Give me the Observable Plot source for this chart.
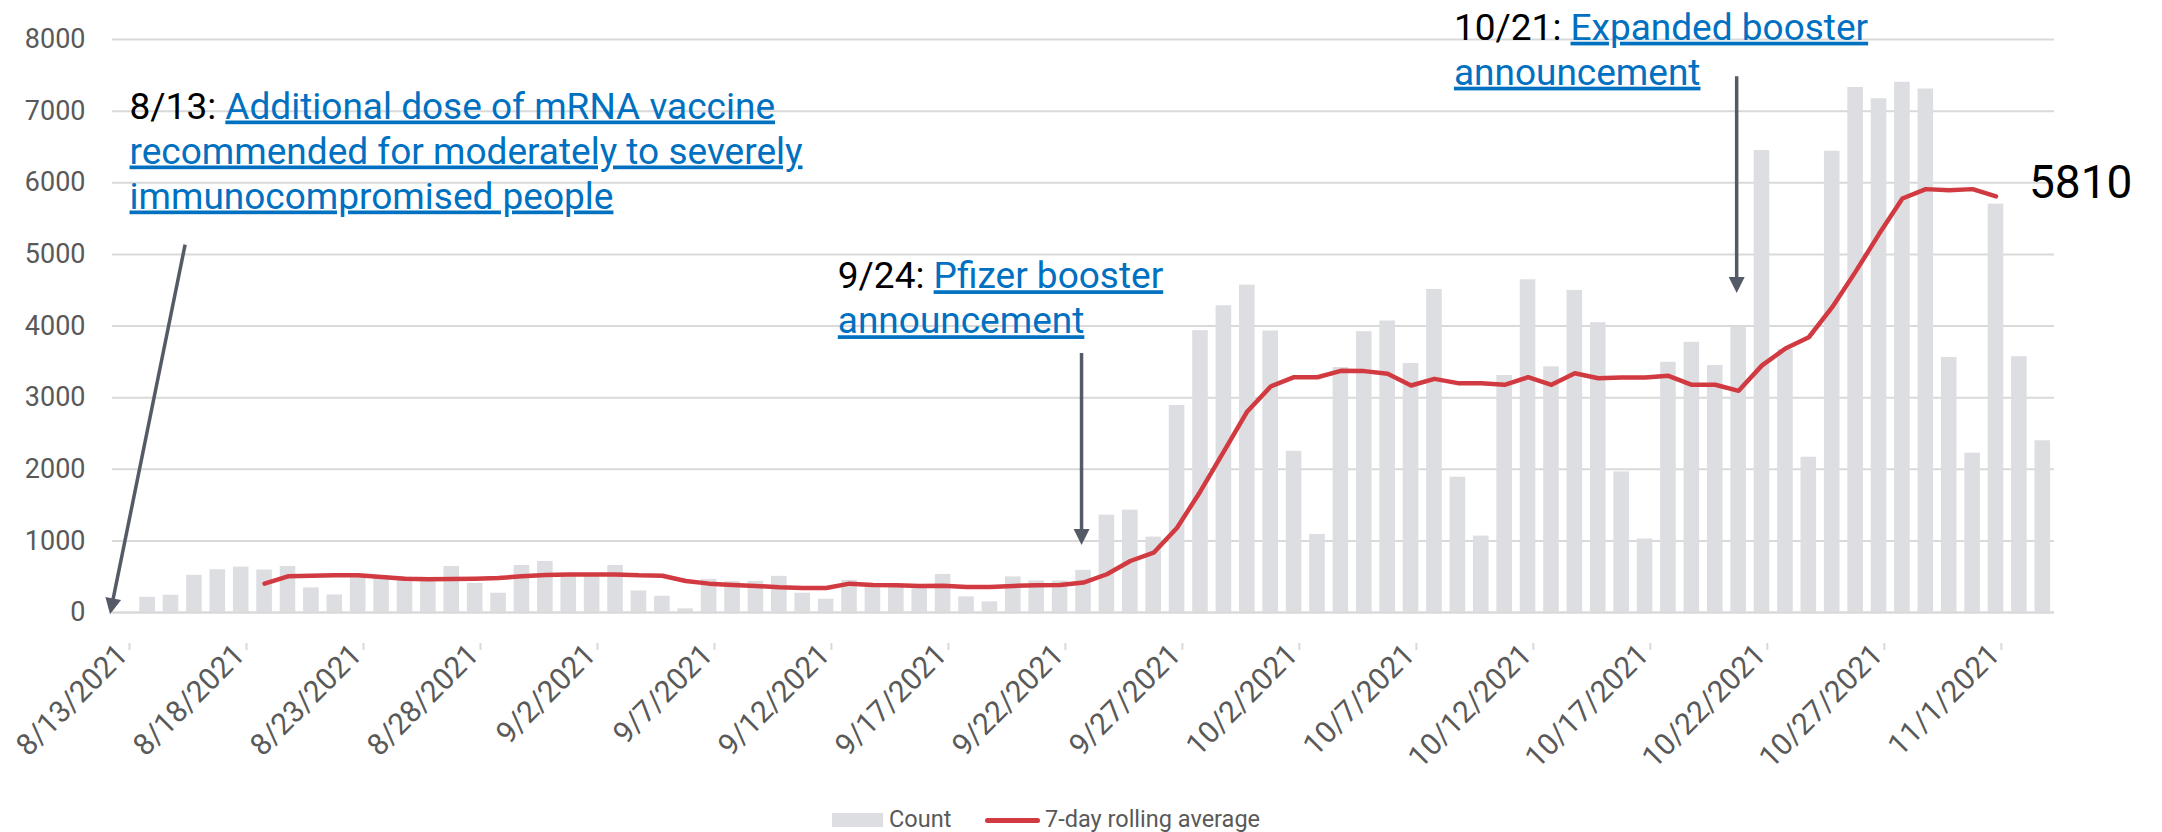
<!DOCTYPE html>
<html><head><meta charset="utf-8">
<script src="https://cdn.jsdelivr.net/npm/d3@7"></script>
<script src="https://cdn.jsdelivr.net/npm/@observablehq/plot@0.6"></script>
<style>
html,body{margin:0;padding:0;background:#fff;}
#wrap{position:relative;width:2162px;height:832px;font-family:Roboto,sans-serif;overflow:hidden;}
#chart{position:absolute;left:0;top:0;}
.lg{position:absolute;font-size:23.5px;color:#595959;line-height:1;white-space:nowrap;}
</style></head>
<body><div id="wrap"><div id="chart"></div><div id="legend"></div></div>
<script>
// ---- data ----
const dates = [
"2021-08-13","2021-08-14","2021-08-15","2021-08-16","2021-08-17","2021-08-18","2021-08-19","2021-08-20","2021-08-21","2021-08-22",
"2021-08-23","2021-08-24","2021-08-25","2021-08-26","2021-08-27","2021-08-28","2021-08-29","2021-08-30","2021-08-31","2021-09-01",
"2021-09-02","2021-09-03","2021-09-04","2021-09-05","2021-09-06","2021-09-07","2021-09-08","2021-09-09","2021-09-10","2021-09-11",
"2021-09-12","2021-09-13","2021-09-14","2021-09-15","2021-09-16","2021-09-17","2021-09-18","2021-09-19","2021-09-20","2021-09-21",
"2021-09-22","2021-09-23","2021-09-24","2021-09-25","2021-09-26","2021-09-27","2021-09-28","2021-09-29","2021-09-30","2021-10-01",
"2021-10-02","2021-10-03","2021-10-04","2021-10-05","2021-10-06","2021-10-07","2021-10-08","2021-10-09","2021-10-10","2021-10-11",
"2021-10-12","2021-10-13","2021-10-14","2021-10-15","2021-10-16","2021-10-17","2021-10-18","2021-10-19","2021-10-20","2021-10-21",
"2021-10-22","2021-10-23","2021-10-24","2021-10-25","2021-10-26","2021-10-27","2021-10-28","2021-10-29","2021-10-30","2021-10-31",
"2021-11-01","2021-11-02","2021-11-03"];
const counts = [
0,213,241,519,597,634,593,643,343,245,
520,510,495,490,643,407,269,657,713,530,
505,657,301,227,51,463,430,435,505,269,
185,449,400,390,392,532,218,149,497,441,
440,589,1360,1429,1053,2891,3935,4283,4571,3930,
2250,1090,3420,3921,4070,3476,4510,1889,1067,3309,
4645,3429,4497,4046,1963,1026,3494,3773,3448,3981,
6450,3670,2168,6440,7330,7173,7403,7309,3560,2225,
5702,3571,2398];
const rolling = [
null,null,null,null,null,null,403,505,514,519,
519,495,472,463,468,472,481,505,525,532,
532,532,519,514,440,403,384,370,352,343,
343,403,384,380,370,373,357,357,371,381,
385,418,534,719,835,1183,1694,2251,2807,3155,
3285,3285,3374,3370,3332,3169,3262,3202,3202,3179,
3285,3179,3341,3271,3281,3281,3304,3179,3179,3095,
3450,3686,3843,4262,4759,5283,5780,5911,5895,5911,
5810,null,null];
const tickDates = ["2021-08-13","2021-08-18","2021-08-23","2021-08-28","2021-09-02","2021-09-07","2021-09-12","2021-09-17","2021-09-22","2021-09-27","2021-10-02","2021-10-07","2021-10-12","2021-10-17","2021-10-22","2021-10-27","2021-11-01"];
const tickLabels = ["8/13/2021","8/18/2021","8/23/2021","8/28/2021","9/2/2021","9/7/2021","9/12/2021","9/17/2021","9/22/2021","9/27/2021","10/2/2021","10/7/2021","10/12/2021","10/17/2021","10/22/2021","10/27/2021","11/1/2021"];
const yTicks = [0,1000,2000,3000,4000,5000,6000,7000,8000];
const seriesNames = ["Count","7-day rolling average"];
const notePrefixes = ["8/13: ","9/24: ","10/21: "];
const noteLines = [
  ["Additional dose of mRNA vaccine","recommended for moderately to severely","immunocompromised people"],
  ["Pfizer booster","announcement"],
  ["Expanded booster","announcement"]];
const noteAnchors = [["2021-08-13T18:00Z",6890],["2021-09-13T00:30Z",4520],["2021-10-09T08:30Z",7990]];
const arrowFrom = [["2021-08-16T03:00Z",5130],["2021-09-23T10:30Z",3615],["2021-10-21T10:30Z",7480]];
const arrowTo   = [["2021-08-12T22:00Z",-30],["2021-09-23T10:30Z",935],["2021-10-21T10:30Z",4455]];

// ---- tables ----
const parse = s => new Date(s + (s.length === 10 ? "T00:00Z" : ""));
const table = dates.map((d, i) => {
  const dt = parse(d);
  return {date: dt, next: d3.utcDay.offset(dt, 1), mid: d3.utcHour.offset(dt, 12), count: counts[i], avg: rolling[i]};
});
const lineData = table.filter(d => d.avg != null);
const lastPoint = lineData[lineData.length - 1];
const tickMap = new Map(tickDates.map((d, i) => [+parse(d), tickLabels[i]]));

const BAR = "#dddee2", RED = "#d13a40", GRID = "#d9d9d9", AX = "#595959", BLUE = "#0070c0", ARW = "#555b66";

const plot = Plot.plot({
  width: 2162, height: 790,
  marginLeft: 112, marginRight: 108, marginTop: 39, marginBottom: 178,
  style: {fontFamily: "Roboto, sans-serif", background: "white", overflow: "visible"},
  x: {type: "utc", domain: [parse("2021-08-13"), parse("2021-11-04")]},
  y: {domain: [0, 8000]},
  marks: [
    Plot.gridY(yTicks, {stroke: GRID, strokeWidth: 2, strokeOpacity: 1}),
    Plot.rectY(table, {x1: "date", x2: "next", y: "count", fill: BAR, insetLeft: 3.9, insetRight: 3.9}),
    Plot.ruleY([0], {stroke: GRID, strokeWidth: 2}),
    Plot.line(lineData, {x: "mid", y: "avg", stroke: RED, strokeWidth: 4.5, strokeLinejoin: "round", strokeLinecap: "round"}),
    Plot.text([lastPoint], {x: "mid", y: "avg", text: d => String(d.avg), textAnchor: "start", dx: 33, dy: -13, fontSize: 46, fill: "#000"}),
    Plot.axisY(yTicks, {tickSize: 0, tickPadding: 27, fontSize: 27, fill: AX, tickFormat: d => String(d)}),
    Plot.axisX(tickDates.map(parse), {tickFormat: d => tickMap.get(+d), tickRotate: -45, textAnchor: "end", lineAnchor: "bottom",
      tickSize: 7, stroke: GRID, strokeWidth: 2, fontSize: 30, fill: AX, tickPadding: 6, dx: 17, dy: 31})
  ]
});
document.getElementById("chart").appendChild(plot);

// ---- annotations & arrows through the plot scales ----
const xs = plot.scale("x"), ys = plot.scale("y");
const svg = d3.select(plot);
const g = svg.append("g").attr("font-family", "Roboto, sans-serif").attr("text-anchor", "start");
noteAnchors.forEach(([d, v], i) => {
  const px = xs.apply(parse(d)), py = ys.apply(v);
  const t = g.append("text").attr("x", px).attr("y", py).attr("font-size", 37).attr("text-anchor", "start");
  t.append("tspan").attr("fill", "#000").text(notePrefixes[i]);
  noteLines[i].forEach((line, j) => {
    const s = t.append("tspan").attr("fill", BLUE).style("text-decoration", "underline").text(line);
    if (j > 0) s.attr("x", px).attr("dy", 45);
  });
});
arrowFrom.forEach(([d1, v1], i) => {
  const [d2, v2] = arrowTo[i];
  const x1 = xs.apply(parse(d1)), y1 = ys.apply(v1), x2 = xs.apply(parse(d2)), y2 = ys.apply(v2);
  const L = Math.hypot(x2 - x1, y2 - y1), ux = (x2 - x1) / L, uy = (y2 - y1) / L;
  const hl = 16, hw = 8;
  g.append("line").attr("x1", x1).attr("y1", y1).attr("x2", x2 - ux * (hl - 2)).attr("y2", y2 - uy * (hl - 2))
    .attr("stroke", ARW).attr("stroke-width", 3.5);
  const bx = x2 - ux * hl, by = y2 - uy * hl;
  g.append("path").attr("d", `M${x2},${y2}L${bx - uy * hw},${by + ux * hw}L${bx + uy * hw},${by - ux * hw}Z`).attr("fill", ARW);
});

// ---- legend (below svg) ----
const lg = document.getElementById("legend");
lg.innerHTML = `
<div style="position:absolute;left:832px;top:813px;width:51px;height:14px;background:${BAR}"></div>
<span class="lg" style="left:889px;top:807.5px">${seriesNames[0]}</span>
<div style="position:absolute;left:985px;top:817.5px;width:55px;height:5px;border-radius:3px;background:${RED}"></div>
<span class="lg" style="left:1045px;top:807.5px">${seriesNames[1]}</span>`;
</script>
</body></html>
